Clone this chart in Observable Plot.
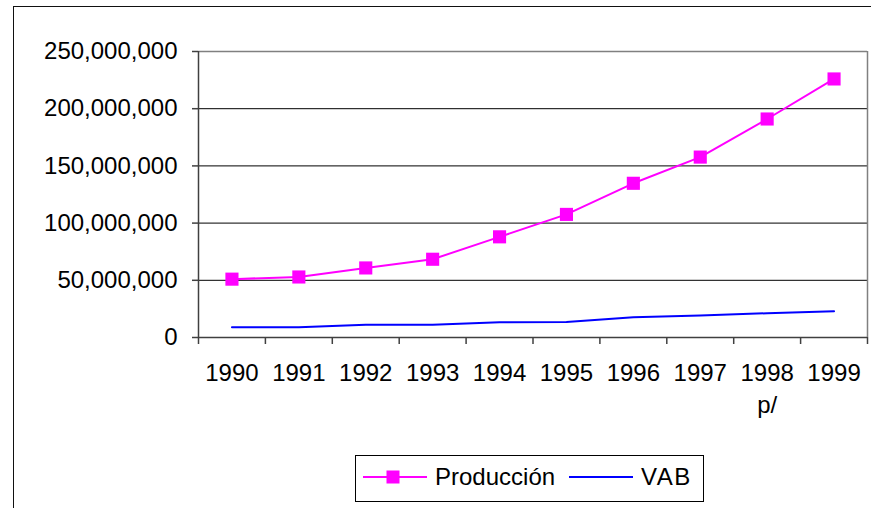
<!DOCTYPE html>
<html><head><meta charset="utf-8">
<script src="https://cdn.jsdelivr.net/npm/d3@7"></script>
<script src="https://cdn.jsdelivr.net/npm/@observablehq/plot@0.6"></script>
<style>
html,body{margin:0;padding:0;background:#fff;}
#wrap{position:relative;width:871px;height:508px;overflow:hidden;font-family:"Liberation Sans",Arial,sans-serif;}
#chart{position:absolute;left:0;top:0;}
#frame{position:absolute;left:13px;top:6px;width:900px;height:600px;border-left:1.5px solid #111;border-top:1.5px solid #111;pointer-events:none;}
#legend{position:absolute;left:355px;top:455px;}
</style></head><body>
<div id="wrap"><div id="chart"></div><div id="frame"></div><div id="legend"></div></div>
<script>
const years = [1990, 1991, 1992, 1993, 1994, 1995, 1996, 1997, 1998, 1999];
const yearLabels = ["1990", "1991", "1992", "1993", "1994", "1995", "1996", "1997", "1998\np/", "1999"];
const produccion = [51.0e6, 52.9e6, 60.8e6, 68.4e6, 88.0e6, 107.6e6, 134.8e6, 157.7e6, 191.0e6, 226.0e6];
const vab = [9.0e6, 9.0e6, 11.1e6, 11.1e6, 13.4e6, 13.5e6, 17.6e6, 19.2e6, 21.2e6, 23.0e6];
const yTicks = [0, 50e6, 100e6, 150e6, 200e6, 250e6];
const gridTicks = [50e6, 100e6, 150e6, 200e6];
const seriesNames = ["Producción", "VAB"];
const seriesColors = ["#ff00ff", "#0000ff"];

const prodData = years.map((y, i) => ({year: y, value: produccion[i]}));
const vabData = years.map((y, i) => ({year: y, value: vab[i]}));
const boundaries = years.map(y => y - 0.5).concat([years[years.length - 1] + 0.5]);
const labelOf = new Map(years.map((y, i) => [y, yearLabels[i]]));
const fmt = d3.format(",");

const chart = Plot.plot({
  width: 871,
  height: 508,
  marginLeft: 198,
  marginRight: 4,
  marginTop: 51,
  marginBottom: 171,
  style: {background: "transparent", fontFamily: "'Liberation Sans', Arial, sans-serif", color: "#000"},
  x: {type: "linear", domain: [boundaries[0], boundaries[boundaries.length - 1]]},
  y: {domain: [0, 250e6]},
  marks: [
    Plot.gridY(gridTicks, {stroke: "#000", strokeOpacity: 1, strokeWidth: 1}),
    Plot.ruleY([250e6], {stroke: "#808080", strokeWidth: 1.5}),
    Plot.ruleX([boundaries[boundaries.length - 1]], {stroke: "#808080", strokeWidth: 1.5}),
    Plot.ruleX([boundaries[0]], {stroke: "#404040", strokeWidth: 1.5}),
    Plot.ruleY([0], {stroke: "#404040", strokeWidth: 1.5}),
    Plot.axisY({ticks: yTicks, tickFormat: fmt, tickSize: 6, tickPadding: 15, fontSize: 24, stroke: "#404040", strokeWidth: 1.5, label: null}),
    Plot.axisX({ticks: boundaries, tickFormat: () => "", tickSize: 7, stroke: "#404040", strokeWidth: 1.5, label: null}),
    Plot.axisX({ticks: years, tickFormat: d => labelOf.get(d), tickSize: 0, tickPadding: 20, fontSize: 24, lineHeight: 1.35, label: null}),
    Plot.line(vabData, {x: "year", y: "value", stroke: seriesColors[1], strokeWidth: 2}),
    Plot.line(prodData, {x: "year", y: "value", stroke: seriesColors[0], strokeWidth: 2}),
    Plot.dot(prodData, {x: "year", y: "value", symbol: "square", r: 7.4, fill: seriesColors[0], stroke: "none"})
  ]
});
document.getElementById("chart").appendChild(chart);

// legend
const lg = d3.select("#legend").append("svg").attr("width", 350).attr("height", 48)
  .style("font-family", "'Liberation Sans', Arial, sans-serif");
lg.append("rect").attr("x", 0.5).attr("y", 0.5).attr("width", 348).attr("height", 46)
  .attr("fill", "#fff").attr("stroke", "#000").attr("stroke-width", 1);
const items = [{x: 8, tx: 80, sq: true, ls: 0}, {x: 214, tx: 286, sq: false, ls: 1.5}];
items.forEach((it, i) => {
  lg.append("line").attr("x1", it.x).attr("x2", it.x + 64).attr("y1", 22).attr("y2", 22)
    .attr("stroke", seriesColors[i]).attr("stroke-width", 2);
  if (it.sq) lg.append("rect").attr("x", it.x + 23.5).attr("y", 15.5).attr("width", 13).attr("height", 13).attr("fill", seriesColors[i]);
  lg.append("text").attr("x", it.tx).attr("y", 30).attr("font-size", 24).attr("letter-spacing", it.ls).attr("fill", "#000").text(seriesNames[i]);
});
</script>
</body></html>
